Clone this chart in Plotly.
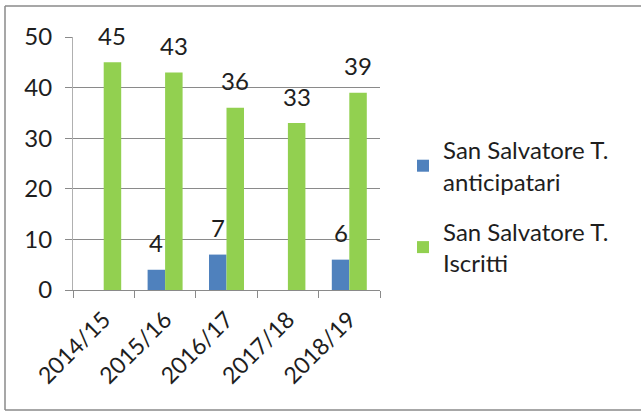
import plotly.graph_objects as go

# data
anni = ["2014/15", "2015/16", "2016/17", "2017/18", "2018/19"]
anticipatari = [None, 4, 7, None, 6]
iscritti = [45, 43, 36, 33, 39]

BLU = "#4F81BD"
VERDE = "#92D050"
FONT = "Lato, Liberation Sans, sans-serif"

fig = go.Figure()
fig.add_trace(go.Bar(x=anni, y=anticipatari, name="San Salvatore T.<br>anticipatari",
                     legendgroup="a", marker=dict(color=BLU, line=dict(width=0))))
fig.add_trace(go.Bar(x=anni, y=iscritti, name="San Salvatore T.<br>Iscritti",
                     legendgroup="b", marker=dict(color=VERDE, line=dict(width=0))))

# data labels, placed above each bar like in Excel
for vals, shift in [(anticipatari, -8.75), (iscritti, 8.75)]:
    for cat, v in zip(anni, vals):
        if v is None:
            continue
        fig.add_annotation(x=cat, y=v, text=str(v), showarrow=False,
                           xshift=shift, yshift=27, yanchor="middle",
                           font=dict(size=24, color="#1e1e1e", family=FONT))

# outer frame of the chart object: left, top and bottom edges only
frame = dict(type="line", xref="paper", yref="paper",
             line=dict(color="#8a8a8a", width=1.5))
fig.add_shape(x0=-0.2215, x1=-0.2215, y0=-0.474, y1=1.123, **frame)
fig.add_shape(x0=-0.2215, x1=1.9, y0=1.123, y1=1.123, **frame)
fig.add_shape(x0=-0.2215, x1=1.9, y0=-0.474, y1=-0.474, **frame)

fig.update_layout(
    width=641, height=412,
    margin=dict(l=73, r=261, t=37, b=122, autoexpand=False),
    paper_bgcolor="white", plot_bgcolor="white",
    barmode="group", bargap=0.43, bargroupgap=0,
    font=dict(family=FONT, size=24, color="#1e1e1e"),
    showlegend=True,
    legend=dict(x=1.075, y=0.33, xanchor="left", yanchor="middle",
                font=dict(size=24), tracegroupgap=16, bgcolor="rgba(0,0,0,0)"),
)
fig.update_xaxes(type="category", tickson="boundaries", ticks="outside", ticklen=7,
                 tickcolor="#8a8a8a", showline=True, linecolor="#8a8a8a", linewidth=1,
                 showgrid=False, tickangle=-45, tickfont=dict(size=23),
                 ticklabelstandoff=6)
fig.update_yaxes(range=[0, 50], dtick=10, showgrid=True, gridcolor="#8a8a8a", gridwidth=1,
                 ticks="outside", ticklen=7, tickcolor="#8a8a8a",
                 showline=True, linecolor="#b0b0b0", zeroline=False,
                 tickfont=dict(size=24), ticklabelstandoff=8)

# remove the default page margin so the figure sits at the window corner
fig.write_html("out.html", config={"displayModeBar": False},
               post_script="document.body.style.margin='0';")
